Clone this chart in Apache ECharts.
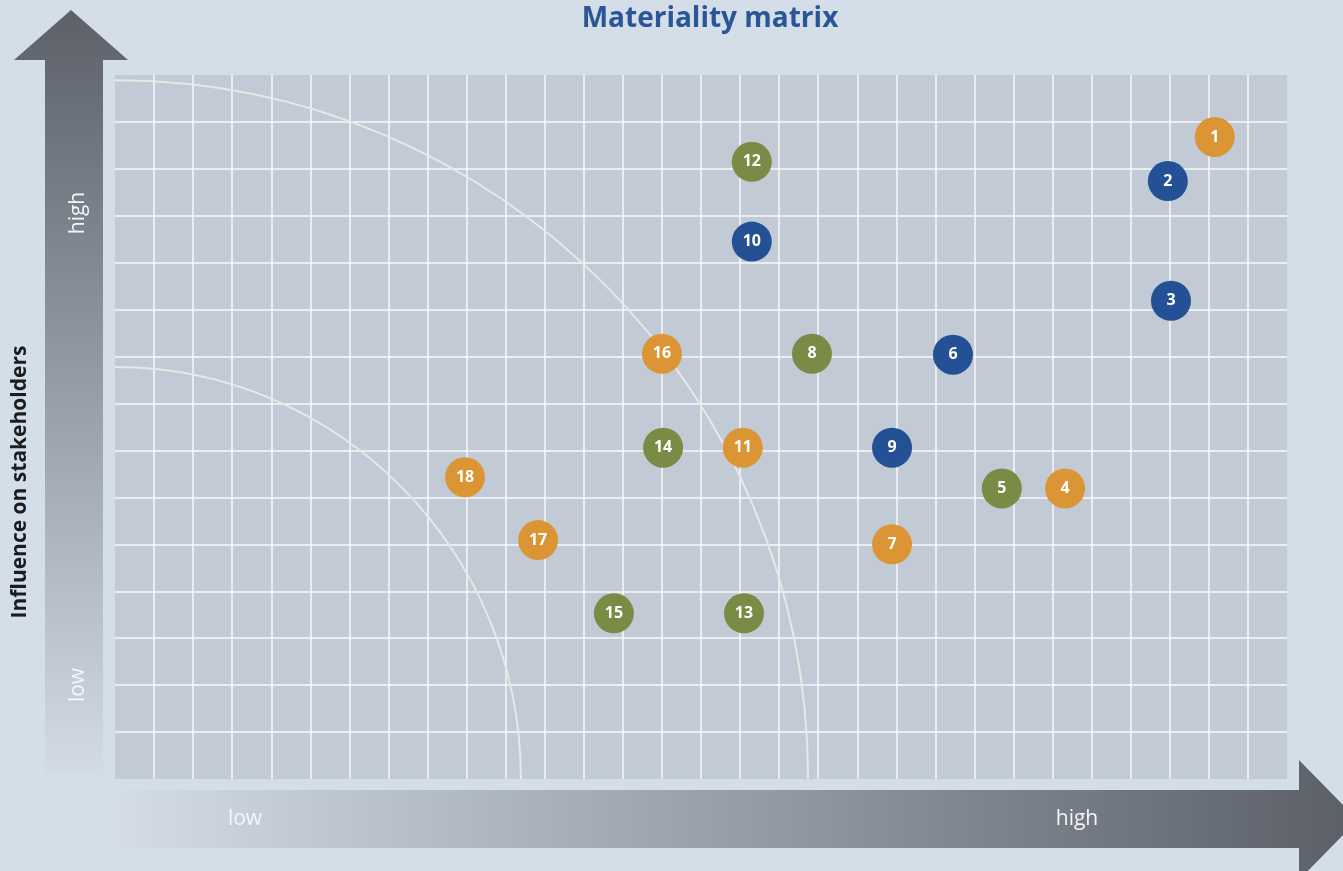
<!DOCTYPE html>
<html>
<head>
<meta charset="utf-8">
<script src="https://cdn.jsdelivr.net/npm/echarts@6/dist/echarts.min.js"></script>
<style>
  html, body { margin: 0; padding: 0; background: #d4dee9; }
  #chart { width: 1343px; height: 871px; }
</style>
</head>
<body>
<div id="chart"></div>
<script>
// topics: number, impact (x), influence (y), group
const topicIds = ['1','2','3','4','5','6','7','8','9','10','11','12','13','14','15','16','17','18'];
const impact   = [28.15, 26.95, 27.03, 24.32, 22.70, 21.45, 19.89, 17.84, 19.89, 16.30, 16.07, 16.30, 16.10, 14.03, 12.77, 14.00, 10.83, 8.96];
const influence = [13.68, 12.74, 10.19, 6.19, 6.19, 9.04, 5.00, 9.06, 7.06, 11.45, 7.06, 13.15, 3.53, 7.06, 3.53, 9.06, 5.09, 6.43];
const groups   = ['orange','blue','blue','orange','green','blue','orange','green','blue','blue','orange','green','green','green','green','orange','orange','orange'];
const groupColors = { orange: '#dc9535', green: '#7a8b45', blue: '#245195' };

// threshold arcs (radius in axis units)
const arcRadiusX = [17.74, 10.39];
const arcRadiusY = [14.89, 8.78];

const axisLabels = { low: 'low', high: 'high' };

const chart = echarts.init(document.getElementById('chart'));

let points = topicIds.map((id, i) => ({
  name: id,
  value: [impact[i], influence[i]],
  itemStyle: { color: groupColors[groups[i]], opacity: 1 }
}));

let arcs = arcRadiusX.map((rx, i) => [rx, arcRadiusY[i]]);

let gridLine = {
  showMinLine: false,
  showMaxLine: false,
  lineStyle: { color: 'rgba(255,255,255,0.85)', width: 1.5 }
};

let option = {
  animation: false,
  backgroundColor: '#d4dee9',
  title: {
    text: 'Materiality matrix',
    left: 705,
    top: 0,
    textAlign: 'center',
    textStyle: { color: '#2a5597', fontSize: 28, fontWeight: 'bold', fontFamily: 'Open Sans' }
  },
  grid: {
    left: 115,
    right: 56,
    top: 75,
    bottom: 92,
    show: true,
    backgroundColor: '#c2cad6',
    borderWidth: 0
  },
  xAxis: {
    type: 'value',
    min: 0,
    max: 30,
    interval: 1,
    axisLine: { show: false },
    axisTick: { show: false },
    axisLabel: { show: false },
    splitLine: gridLine
  },
  yAxis: {
    type: 'value',
    min: 0,
    max: 15,
    interval: 1,
    axisLine: { show: false },
    axisTick: { show: false },
    axisLabel: { show: false },
    splitLine: gridLine
  },
  graphic: [
    // vertical arrow
    {
      type: 'polygon',
      shape: { points: [[45, 775], [45, 60], [14, 60], [71, 10], [128, 60], [103, 60], [103, 775]] },
      style: {
        fill: new echarts.graphic.LinearGradient(0, 0, 0, 1, [
          { offset: 0, color: '#5b6069' },
          { offset: 1, color: '#d2dbe6' }
        ])
      }
    },
    // horizontal arrow
    {
      type: 'polygon',
      shape: { points: [[115, 790], [1299, 790], [1299, 760], [1343, 805], [1343, 835], [1299, 880], [1299, 848], [115, 848]] },
      style: {
        fill: new echarts.graphic.LinearGradient(0, 0, 1, 0, [
          { offset: 0, color: '#d3dce7' },
          { offset: 1, color: '#5b6069' }
        ])
      }
    },
    {
      type: 'text', x: 78, y: 213, rotation: Math.PI / 2,
      style: { text: axisLabels.high, fill: '#f4f6f9', font: '21px "Open Sans"', align: 'center', verticalAlign: 'middle' }
    },
    {
      type: 'text', x: 78, y: 685, rotation: Math.PI / 2,
      style: { text: axisLabels.low, fill: '#f4f6f9', font: '21px "Open Sans"', align: 'center', verticalAlign: 'middle' }
    },
    {
      type: 'text', x: 245, y: 819,
      style: { text: axisLabels.low, fill: '#f4f6f9', font: '21px "Open Sans"', align: 'center', verticalAlign: 'middle' }
    },
    {
      type: 'text', x: 1077, y: 819,
      style: { text: axisLabels.high, fill: '#f4f6f9', font: '21px "Open Sans"', align: 'center', verticalAlign: 'middle' }
    },
    {
      type: 'text', x: 20, y: 482, rotation: Math.PI / 2,
      style: { text: 'Influence on stakeholders', fill: '#1a1c20', font: 'bold 21px "Open Sans"', align: 'center', verticalAlign: 'middle' }
    }
  ],
  series: [
    {
      type: 'custom',
      silent: true,
      z: 1,
      data: arcs,
      renderItem: (params, api) => {
        let c = api.coord([0, 0]);
        let rx = api.size([api.value(0), 0])[0];
        let ry = api.size([0, api.value(1)])[1];
        let k = 0.5523;
        return {
          type: 'bezierCurve',
          shape: {
            x1: c[0], y1: c[1] - ry,
            cpx1: c[0] + k * rx, cpy1: c[1] - ry,
            cpx2: c[0] + rx, cpy2: c[1] - k * ry,
            x2: c[0] + rx, y2: c[1]
          },
          style: { stroke: '#e8e8e6', lineWidth: 2, fill: null }
        };
      }
    },
    {
      type: 'scatter',
      z: 3,
      symbolSize: 40,
      data: points,
      label: {
        show: true,
        position: 'inside',
        formatter: (p) => p.name,
        color: '#ffffff',
        fontSize: 16,
        fontWeight: 'bold',
        fontFamily: 'Open Sans'
      }
    }
  ]
};

chart.setOption(option);
</script>
</body>
</html>
